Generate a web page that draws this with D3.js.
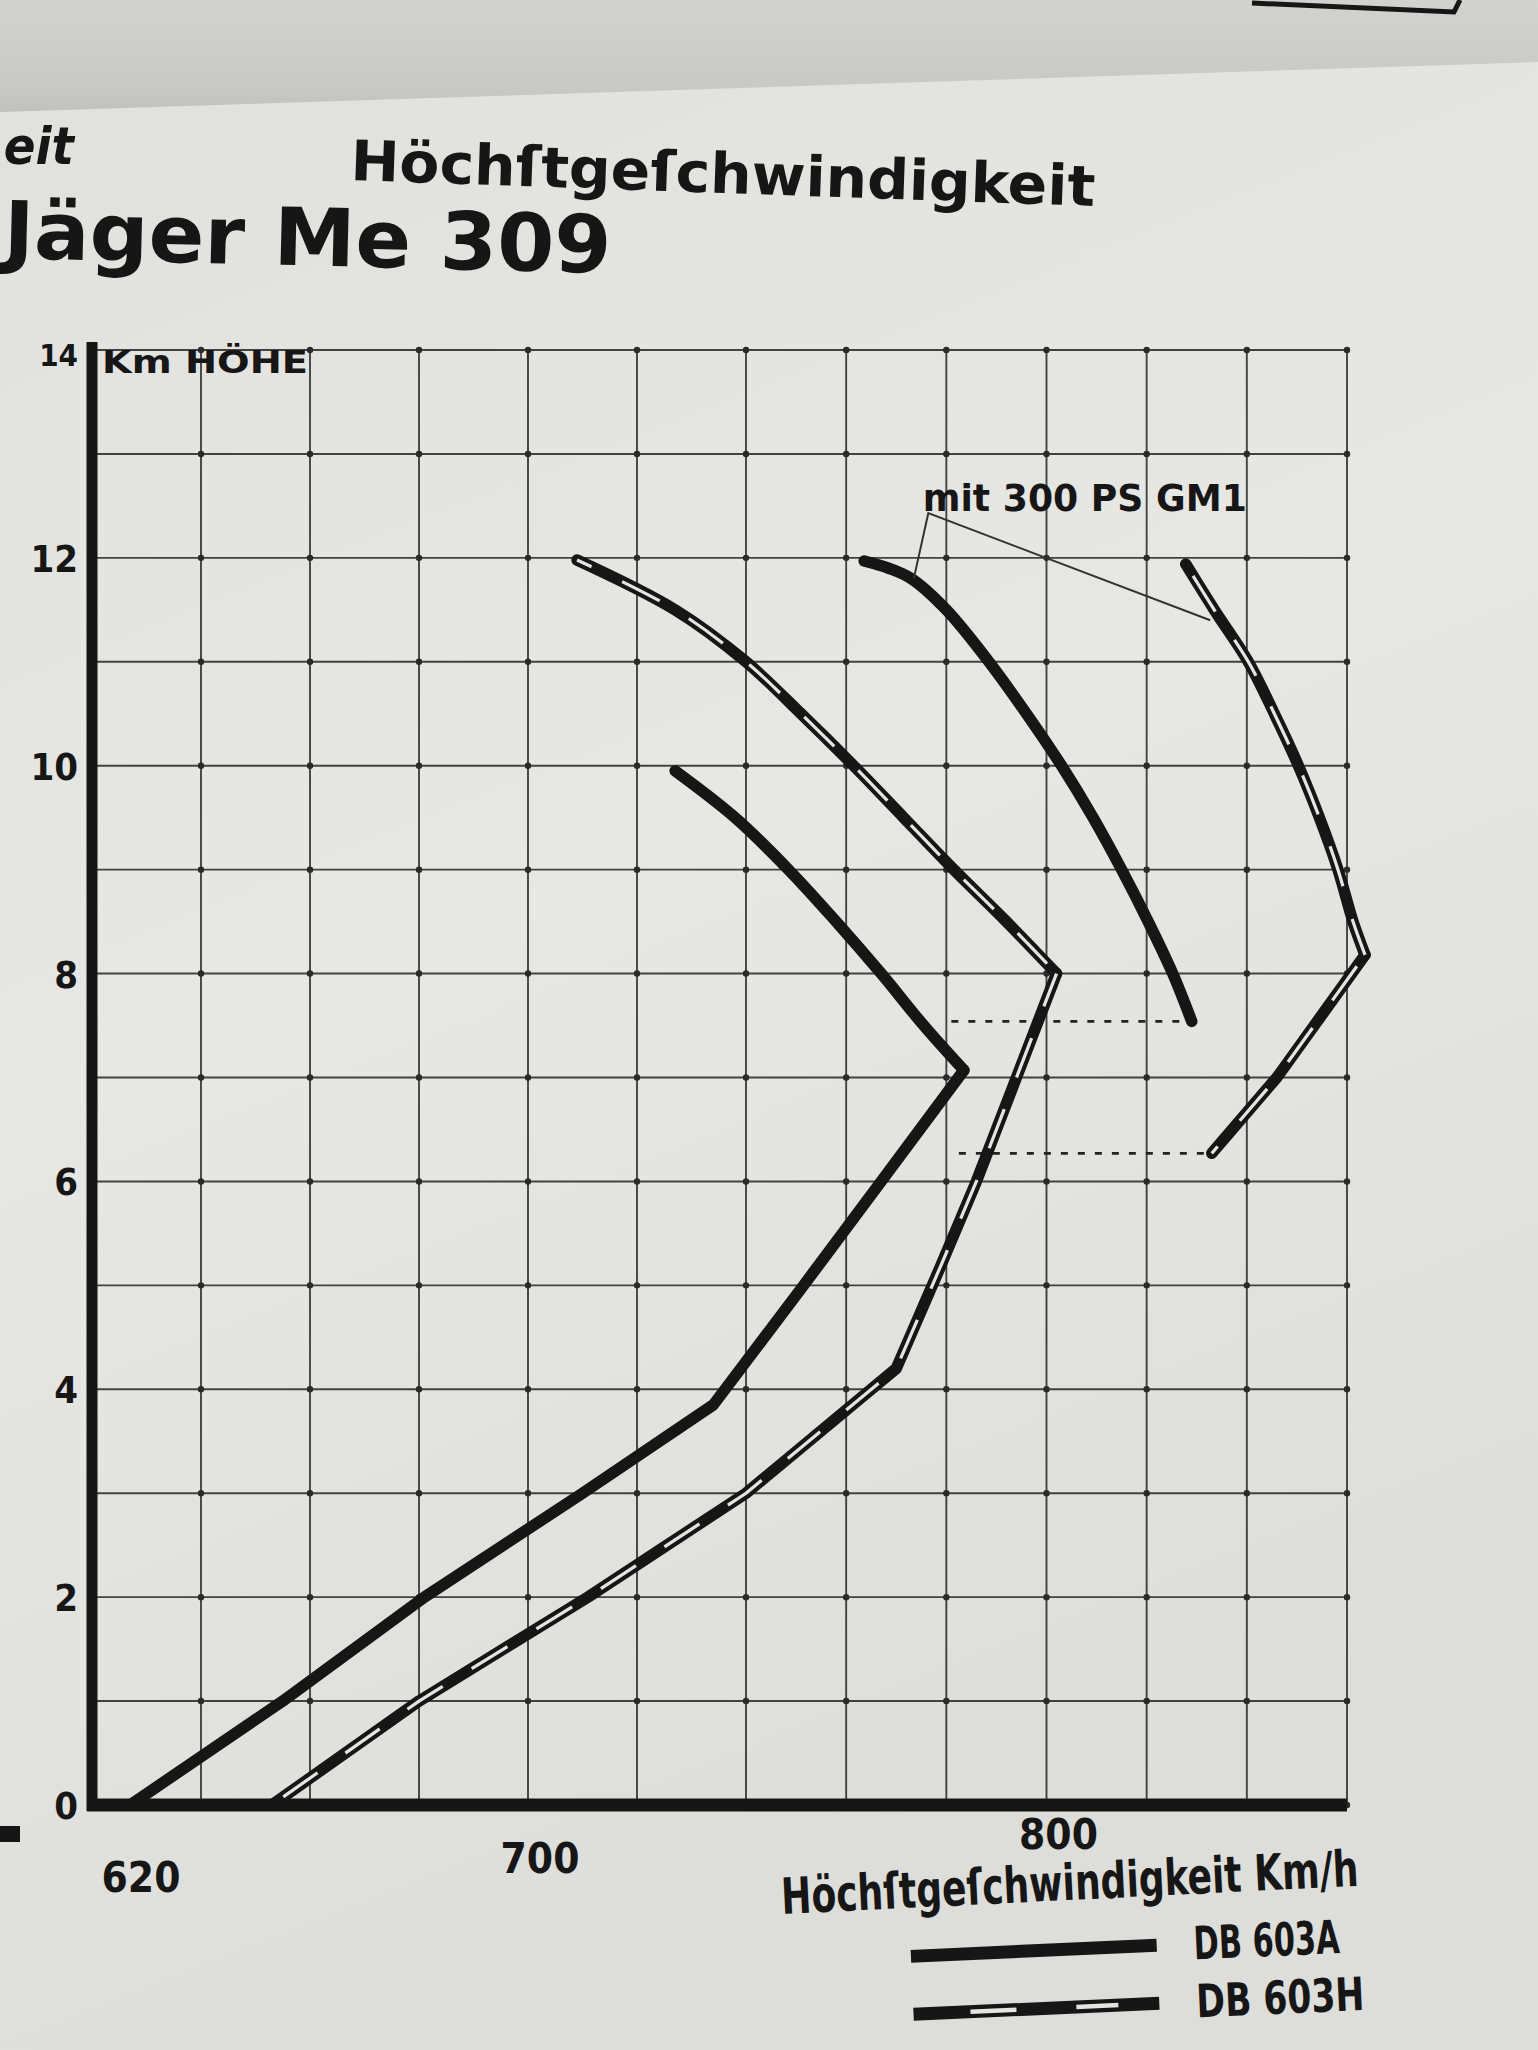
<!DOCTYPE html>
<html><head><meta charset="utf-8">
<script src="https://cdn.jsdelivr.net/npm/d3@7"></script>
<style>html,body{margin:0;padding:0;background:#e3e3e0;} svg{display:block}</style>
</head><body><svg id="c" width="1538" height="2050"></svg>
<script>
// ---- data (km/h vs. altitude in km) ----
const speedTickLabels = [620, 700, 800];
const heightTickLabels = [0, 2, 4, 6, 8, 10, 12, 14];

// DB 603A (solid)
const a603Speed  = [627, 655, 681, 710, 734, 751.5, 767, 783.5, 775.5, 767, 758, 748.5, 738, 727];
const a603Height = [0,   1,   2,   3,   3.85, 5,    6,   7.07, 7.5,   8,   8.5, 9,     9.5, 9.95];

// DB 603H (hollow)
const h603Speed  = [653, 680, 711, 740, 770, 779, 786, 794, 802, 792, 781.5, 771.5, 761.5, 751, 740, 727, 709];
const h603Height = [0,   1,   2,   3,   4.2, 5.2, 6,   7,   8,   8.5, 9,     9.5,   10,    10.5, 11, 11.5, 11.98];

// mit 300 PS GM1 – DB 603A
const gmASpeed  = [763.6, 768.5, 773, 780, 788.5, 796, 803, 809.3, 815, 820.3, 825.2, 829];
const gmAHeight = [11.97, 11.9,  11.8, 11.5, 11,  10.5, 10, 9.5,   9,   8.5,   8,     7.54];

// mit 300 PS GM1 – DB 603H
const gmHSpeed  = [827.8, 833.5, 840.3, 845.5, 850.3, 854.5, 858.2, 861.2, 863.6, 846, 833];
const gmHHeight = [11.94, 11.5,  11,    10.5,  10,    9.5,   9,     8.5,   8.18,  7,   6.27];

// dotted connectors
const dotSpeedFrom = [781, 782.5];
const dotSpeedTo   = [829, 833];
const dotHeight    = [7.54, 6.27];

// annotation leader (speed, height)
const leaderSpeed  = [773.5, 776.4, 832.7];
const leaderHeight = [11.8, 12.43, 11.4];
const annoText = "mit 300 PS GM1";
const annoSpeed = [775.3, 840];
const annoHeight = 12.45;

const titleTop = "Höchſtgeſchwindigkeit";
const titleMain = "Jäger Me 309";
const titleCut = "eit";
const yAxisTitle = "Km HÖHE";
const xAxisTitle = "Höchſtgeſchwindigkeit Km/h";
const legendNames = ["DB 603A", "DB 603H"];

// ---- drawing ----
const F = "'DejaVu Sans Condensed','DejaVu Sans',sans-serif";
const INK = "#161616";
const PAPER = "#e4e4e1";
const svg = d3.select("#c");

const defs = svg.append("defs");
const bg = defs.append("linearGradient").attr("id","bg").attr("x1",0).attr("y1",0).attr("x2",0.3).attr("y2",1);
bg.append("stop").attr("offset","0").attr("stop-color","#e0e0dd");
bg.append("stop").attr("offset","0.5").attr("stop-color","#e7e7e4");
bg.append("stop").attr("offset","1").attr("stop-color","#dddddA");
svg.append("rect").attr("width",1538).attr("height",2050).attr("fill","url(#bg)");
const topg = defs.append("linearGradient").attr("id","topg").attr("x1",0).attr("y1",0).attr("x2",0).attr("y2",1);
topg.append("stop").attr("offset","0").attr("stop-color","#d2d2cf");
topg.append("stop").attr("offset","0.8").attr("stop-color","#c8c8c5");
topg.append("stop").attr("offset","1").attr("stop-color","#c0c0bd");
svg.append("path").attr("d","M0,0 L1538,0 L1538,62 L0,112 Z").attr("fill","url(#topg)");
svg.append("path").attr("d","M1252,3 L1454,12 L1460,0").attr("fill","none").attr("stroke",INK).attr("stroke-width",5);
svg.append("rect").attr("x",0).attr("y",1826).attr("width",20).attr("height",16).attr("fill",INK);

// polylinear x scale follows the photographed sheet (grid narrows to the right)
const x = d3.scaleLinear().domain([620, 740, 860]).range([92, 746, 1347]);
const y = d3.scaleLinear().domain([0, 14]).range([1805, 350]);

const g = svg.append("g");

// grid
const xg = d3.scaleLinear().domain([620, 860]).ticks(12), yg = y.ticks(14);
g.selectAll("line.vg").data(xg).join("line")
  .attr("x1", d => x(d)).attr("x2", d => x(d))
  .attr("y1", y(14)).attr("y2", y(0))
  .attr("stroke", "#262626").attr("stroke-width", 1.9).attr("opacity", 0.85);
g.selectAll("line.hg").data(yg).join("line")
  .attr("x1", x(620)).attr("x2", x(860))
  .attr("y1", d => y(d)).attr("y2", d => y(d))
  .attr("stroke", "#262626").attr("stroke-width", 1.9).attr("opacity", 0.85);
const inter = [];
xg.forEach(a => yg.forEach(b => inter.push([a, b])));
g.selectAll("circle.dot").data(inter).join("circle")
  .attr("cx", d => x(d[0])).attr("cy", d => y(d[1])).attr("r", 3.2).attr("fill", "#2a2a2a");

// dotted connectors
dotHeight.forEach((h, i) => {
  g.append("line").attr("x1", x(dotSpeedFrom[i])).attr("x2", x(dotSpeedTo[i]))
    .attr("y1", y(h)).attr("y2", y(h))
    .attr("stroke", "#222").attr("stroke-width", 2.8).attr("stroke-dasharray", "7 10");
});

// series: [from, to] index ranges drawn straight or smooth
const lin = d3.line().x(d => x(d[0])).y(d => y(d[1]));
const smo = d3.line().x(d => x(d[0])).y(d => y(d[1])).curve(d3.curveCatmullRom.alpha(0.5));
function series(sp, ht, hollow, parts) {
  const pts = sp.map((s, i) => [s, ht[i]]);
  parts.forEach(p => {
    const seg = pts.slice(p[0], p[1] + 1);
    const gen = p[2] ? smo : lin;
    g.append("path").attr("d", gen(seg)).attr("fill", "none").attr("stroke", INK)
      .attr("stroke-width", 11.5).attr("stroke-linejoin", "round").attr("stroke-linecap", "round");
  });
  if (hollow) {
    parts.forEach(p => {
      const seg = pts.slice(p[0], p[1] + 1);
      const gen = p[2] ? smo : lin;
      g.append("path").attr("d", gen(seg)).attr("fill", "none").attr("stroke", PAPER)
        .attr("stroke-width", 3.2).attr("stroke-linejoin", "round").attr("stroke-dasharray", "42 34").attr("stroke-dashoffset", -14);
    });
  }
}
series(a603Speed, a603Height, false, [[0, 7, false], [7, 13, true]]);
series(h603Speed, h603Height, true, [[0, 8, false], [8, 16, true]]);
series(gmASpeed, gmAHeight, false, [[0, 11, true]]);
series(gmHSpeed, gmHHeight, true, [[0, 8, true], [8, 10, false]]);

// leader lines
g.append("path").attr("d", lin(leaderSpeed.map((s, i) => [s, leaderHeight[i]])))
  .attr("fill", "none").attr("stroke", "#333").attr("stroke-width", 2);

// annotation text
g.append("text").attr("x", x(annoSpeed[0])).attr("y", y(annoHeight))
  .attr("font-family", F).attr("font-weight", "bold").attr("font-size", 38).attr("fill", INK)
  .attr("textLength", x(annoSpeed[1]) - x(annoSpeed[0])).attr("lengthAdjust", "spacingAndGlyphs")
  .text(annoText);

// axes (thick)
g.append("line").attr("x1", x(620)).attr("x2", x(620)).attr("y1", y(14) - 8).attr("y2", y(0) + 6)
  .attr("stroke", INK).attr("stroke-width", 11);
g.append("line").attr("x1", x(620) - 5).attr("x2", x(860)).attr("y1", y(0)).attr("y2", y(0))
  .attr("stroke", INK).attr("stroke-width", 13);

// y tick labels
g.selectAll("text.yl").data(heightTickLabels).join("text")
  .attr("x", 78).attr("y", d => y(d) + (d === 14 ? 16 : 14))
  .attr("text-anchor", "end").attr("font-family", F).attr("font-weight", "bold")
  .attr("font-size", d => d === 14 ? 31 : 38).attr("fill", INK).text(d => d);
// y axis title
g.append("text").attr("x", 102).attr("y", y(14) + 23)
  .attr("font-family", F).attr("font-weight", "bold").attr("font-size", 32).attr("fill", INK)
  .attr("textLength", 206).attr("lengthAdjust", "spacingAndGlyphs").text(yAxisTitle);

// x tick labels
const xLabX = (d, i) => x(d) + (i === 0 ? 49 : 12);
g.selectAll("text.xl").data(speedTickLabels).join("text")
  .attr("x", xLabX)
  .attr("y", (d, i) => 1892 - (xLabX(d, i) - 141) * 0.047)
  .attr("text-anchor", "middle").attr("font-family", F).attr("font-weight", "bold")
  .attr("font-size", 42).attr("fill", INK).text(d => d);

// x axis title
svg.append("text").attr("x", 782).attr("y", 1914).attr("transform", "rotate(-2.8,782,1914)")
  .attr("font-family", F).attr("font-weight", "bold").attr("font-size", 50).attr("fill", INK)
  .attr("textLength", 578).attr("lengthAdjust", "spacingAndGlyphs").text(xAxisTitle);

// legend
const lg = svg.append("g").attr("transform", "rotate(-2.6,1140,1975)");
const legY = [1946, 2004];
legendNames.forEach((n, i) => {
  lg.append("line").attr("x1", 912).attr("x2", 1158).attr("y1", legY[i]).attr("y2", legY[i])
    .attr("stroke", INK).attr("stroke-width", 13);
  if (i === 1) {
    lg.append("line").attr("x1", 912).attr("x2", 1158).attr("y1", legY[i]).attr("y2", legY[i])
      .attr("stroke", PAPER).attr("stroke-width", 4.5).attr("stroke-dasharray", "0 57 46 60 42 100");
  }
  lg.append("text").attr("x", 1195).attr("y", legY[i] + 16)
    .attr("font-family", F).attr("font-weight", "bold").attr("font-size", 46).attr("fill", INK)
    .attr("textLength", i === 0 ? 146 : 168).attr("lengthAdjust", "spacingAndGlyphs").text(n);
});

// titles
svg.append("text").attr("x", 74).attr("y", 164).attr("text-anchor", "end")
  .attr("font-family", F).attr("font-weight", "bold").attr("font-style", "italic")
  .attr("font-size", 52).attr("fill", INK).text(titleCut);
svg.append("text").attr("x", 350).attr("y", 180).attr("transform", "rotate(2.0,350,180)")
  .attr("font-family", F).attr("font-weight", "bold").attr("font-size", 56).attr("fill", INK)
  .attr("textLength", 745).attr("lengthAdjust", "spacingAndGlyphs").text(titleTop);
svg.append("text").attr("x", 3).attr("y", 258).attr("transform", "rotate(1.4,3,258)")
  .attr("font-family", F).attr("font-weight", "bold").attr("font-size", 80).attr("fill", INK)
  .attr("textLength", 608).attr("lengthAdjust", "spacingAndGlyphs").text(titleMain);
</script></body></html>
